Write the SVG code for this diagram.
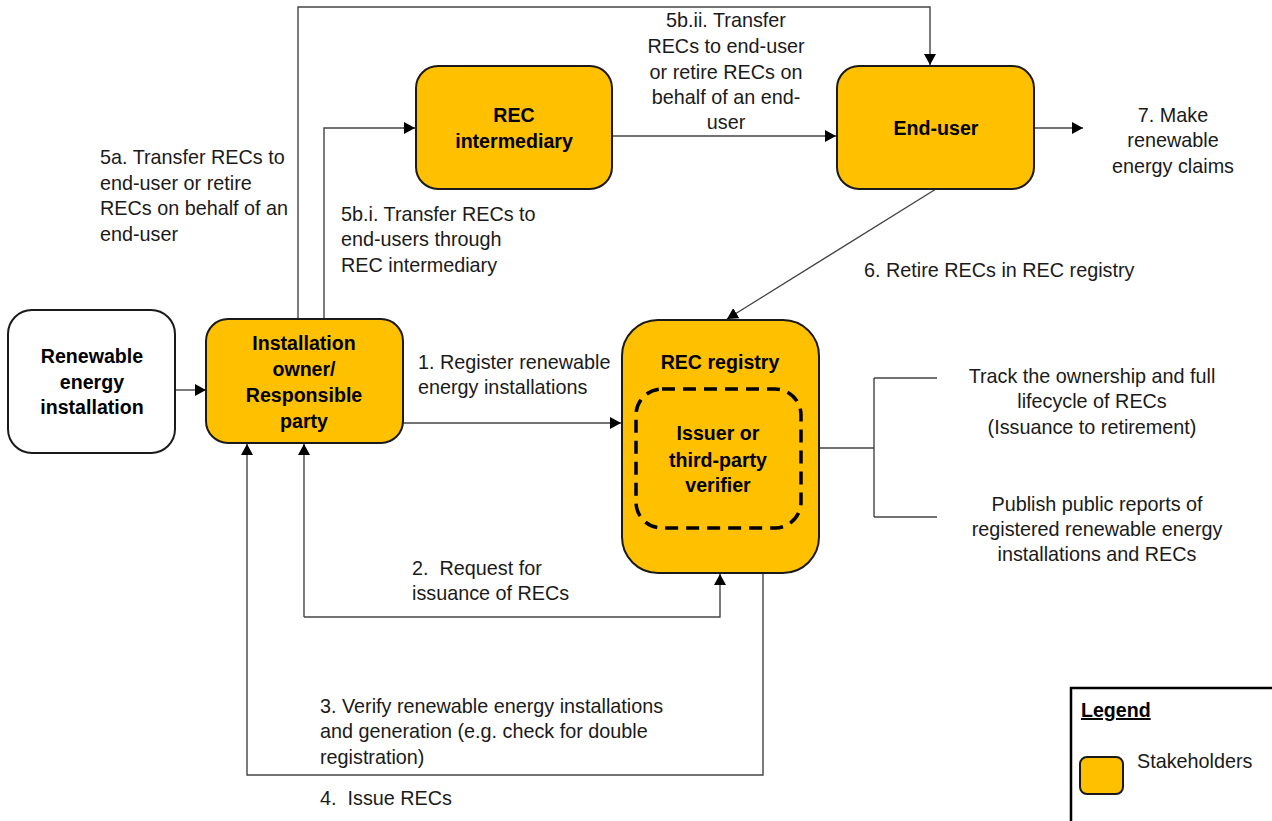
<svg xmlns="http://www.w3.org/2000/svg" width="1272" height="821" viewBox="0 0 1272 821">
<style>
  .node { fill: #FFC000; stroke: #1a1a1a; stroke-width: 2; }
  .plain { fill: #ffffff; stroke: #1a1a1a; stroke-width: 2; }
  .bt { font-family: "Liberation Sans", Arial, sans-serif; font-size: 19.6px; font-weight: bold; fill: #000; text-anchor: middle; }
  .t { font-family: "Liberation Sans", Arial, sans-serif; font-size: 19.8px; fill: #1a1a1a; }
  .c { text-anchor: middle; }
  .conn { fill: none; stroke: #444; stroke-width: 1.4; }
  .arr { marker-end: url(#ah); }
</style>
<defs>
  <marker id="ah" markerUnits="userSpaceOnUse" markerWidth="11" markerHeight="12" refX="11" refY="6" orient="auto">
    <path d="M0,0 L11,6 L0,12 Z" fill="#000"/>
  </marker>
</defs>
<rect width="1272" height="821" fill="#ffffff"/>

<g id="connectors">
  <path class="conn arr" d="M176,390 L206,390"/>
  <path class="conn arr" d="M403,423 L621,423"/>
  <path class="conn arr" d="M324,320 L324,128 L415,128"/>
  <path class="conn arr" d="M298,320 L298,7 L930,7 L930,65"/>
  <path class="conn arr" d="M612,136 L836,136"/>
  <path class="conn arr" d="M1034,128 L1083,128"/>
  <path class="conn arr" d="M936,189 L727,319"/>
  <path class="conn arr" d="M304,617 L304,444"/>
  <path class="conn arr" d="M304,617 L720,617 L720,574"/>
  <path class="conn arr" d="M763,573 L763,775 L247,775 L247,444"/>
  <path class="conn" d="M819,448 L874,448 M874,378 L874,517 M874,378 L937,378 M874,517 L937,517"/>
</g>

<g id="renewable">
  <rect class="plain" x="8" y="310" width="167" height="143" rx="24"/>
  <text class="bt" x="92" y="363">Renewable</text>
  <text class="bt" x="92" y="389">energy</text>
  <text class="bt" x="92" y="414">installation</text>
</g>

<g id="owner">
  <rect class="node" x="206" y="319" width="197" height="124" rx="22"/>
  <text class="bt" x="304" y="350">Installation</text>
  <text class="bt" x="304" y="376">owner/</text>
  <text class="bt" x="304" y="402">Responsible</text>
  <text class="bt" x="304" y="428">party</text>
</g>

<g id="intermediary">
  <rect class="node" x="416" y="66" width="196" height="123" rx="22"/>
  <text class="bt" x="514" y="122">REC</text>
  <text class="bt" x="514" y="148">intermediary</text>
</g>

<g id="enduser">
  <rect class="node" x="837" y="66" width="197" height="123" rx="22"/>
  <text class="bt" x="936" y="135">End-user</text>
</g>

<g id="registry">
  <rect class="node" x="622" y="320" width="197" height="253" rx="36"/>
  <text class="bt" x="720" y="369">REC registry</text>
  <rect x="636" y="389" width="165" height="139" rx="26" fill="none" stroke="#000" stroke-width="3.5" stroke-dasharray="13 8"/>
  <text class="bt" x="718" y="440">Issuer or</text>
  <text class="bt" x="718" y="467">third-party</text>
  <text class="bt" x="718" y="492">verifier</text>
</g>

<g id="labels">
  <text class="t" x="100" y="164">5a. Transfer RECs to</text>
  <text class="t" x="100" y="190">end-user or retire</text>
  <text class="t" x="100" y="215">RECs on behalf of an</text>
  <text class="t" x="100" y="241">end-user</text>

  <text class="t" x="341" y="221">5b.i. Transfer RECs to</text>
  <text class="t" x="341" y="246">end-users through</text>
  <text class="t" x="341" y="272">REC intermediary</text>

  <text class="t c" x="726" y="27">5b.ii. Transfer</text>
  <text class="t c" x="726" y="53">RECs to end-user</text>
  <text class="t c" x="726" y="79">or retire RECs on</text>
  <text class="t c" x="726" y="104">behalf of an end-</text>
  <text class="t c" x="726" y="129">user</text>

  <text class="t c" x="1173" y="122">7. Make</text>
  <text class="t c" x="1173" y="147">renewable</text>
  <text class="t c" x="1173" y="173">energy claims</text>

  <text class="t" x="864" y="277">6. Retire RECs in REC registry</text>

  <text class="t" x="418" y="369">1. Register renewable</text>
  <text class="t" x="418" y="394">energy installations</text>

  <text class="t" x="412" y="575" xml:space="preserve">2.  Request for</text>
  <text class="t" x="412" y="600">issuance of RECs</text>

  <text class="t" x="320" y="713">3. Verify renewable energy installations</text>
  <text class="t" x="320" y="738">and generation (e.g. check for double</text>
  <text class="t" x="320" y="764">registration)</text>

  <text class="t" x="320" y="805" xml:space="preserve">4.  Issue RECs</text>

  <text class="t c" x="1092" y="383">Track the ownership and full</text>
  <text class="t c" x="1092" y="408">lifecycle of RECs</text>
  <text class="t c" x="1092" y="434">(Issuance to retirement)</text>

  <text class="t c" x="1097" y="511">Publish public reports of</text>
  <text class="t c" x="1097" y="536">registered renewable energy</text>
  <text class="t c" x="1097" y="561">installations and RECs</text>
</g>

<g id="legend">
  <rect x="1071" y="688" width="215" height="150" fill="#ffffff" stroke="#000" stroke-width="2.5"/>
  <text class="bt" x="1081" y="717" style="text-anchor:start" text-decoration="underline">Legend</text>
  <rect class="node" x="1080" y="757" width="43" height="37" rx="7"/>
  <text class="t" x="1137" y="768">Stakeholders</text>
</g>
</svg>
